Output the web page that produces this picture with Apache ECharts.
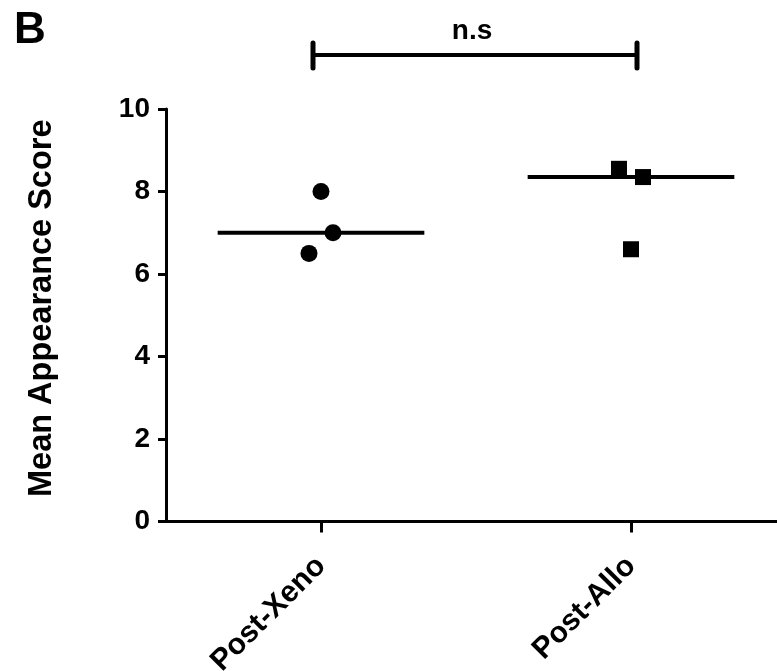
<!DOCTYPE html>
<html>
<head>
<meta charset="utf-8">
<script src="https://cdn.jsdelivr.net/npm/echarts@6/dist/echarts.min.js"></script>
<style>
html,body{margin:0;padding:0;background:#fff;}
#main{width:777px;height:671px;}
</style>
</head>
<body>
<div id="main"></div>
<script>
// ---- data ----
var categories = ['Post-Xeno', 'Post-Allo'];
var xenoScores = [8.0, 7.0, 6.5];
var alloScores = [8.55, 8.35, 6.6];
var yTicks = [0, 2, 4, 6, 8, 10];
var yTitle = 'Mean Appearance Score';
var panelLabel = 'B';
var sigLabel = 'n.s';
// horizontal jitter of individual points (pixels)
var xenoJitter = [0, 12, -12];
var alloJitter = [-12, 12, 0];

function median(arr) {
  var s = arr.slice().sort(function (a, b) { return a - b; });
  var m = Math.floor(s.length / 2);
  return s.length % 2 ? s[m] : (s[m - 1] + s[m]) / 2;
}

var FONT = '"Liberation Sans", Arial, sans-serif';

function pts(cat, vals, jit) {
  return vals.map(function (v, i) {
    return { value: [cat, v], symbolOffset: [jit[i], 0] };
  });
}

var chart = echarts.init(document.getElementById('main'), null, { renderer: 'canvas' });

var option = {
  backgroundColor: '#ffffff',
  animation: false,
  title: {
    text: panelLabel,
    left: 9,
    top: 4,
    textStyle: { fontFamily: FONT, fontWeight: 'bold', fontSize: 44, color: '#000' }
  },
  grid: { left: 166, top: 109, height: 412.5, width: 620, containLabel: false, outerBoundsMode: 'none' },
  xAxis: {
    type: 'category',
    data: categories,
    boundaryGap: true,
    axisLine: { show: true, lineStyle: { color: '#000', width: 3 } },
    axisTick: { show: true, interval: 0, alignWithLabel: true, length: 11, lineStyle: { color: '#000', width: 3 } },
    axisLabel: {
      rotate: 45,
      margin: 40,
      interval: 0,
      color: '#000',
      fontFamily: FONT,
      fontWeight: 'bold',
      fontSize: 30
    },
    splitLine: { show: false }
  },
  yAxis: {
    type: 'value',
    min: yTicks[0],
    max: yTicks[yTicks.length - 1],
    interval: yTicks[1] - yTicks[0],
    name: yTitle,
    nameLocation: 'middle',
    nameRotate: 90,
    nameGap: 107,
    nameTextStyle: { fontFamily: FONT, fontWeight: 'bold', fontSize: 32.5, color: '#000', padding: [0, 0, 0, 14] },
    axisLine: { show: true, lineStyle: { color: '#000', width: 3 } },
    axisTick: { show: true, length: 8, lineStyle: { color: '#000', width: 3 } },
    axisLabel: {
      margin: 16,
      color: '#000',
      fontFamily: FONT,
      fontWeight: 'bold',
      fontSize: 28
    },
    splitLine: { show: false }
  },
  series: [
    {
      type: 'scatter',
      name: categories[0],
      symbol: 'circle',
      symbolSize: 17,
      itemStyle: { color: '#000', opacity: 1 },
      data: pts(categories[0], xenoScores, xenoJitter),
      z: 3
    },
    {
      type: 'scatter',
      name: categories[1],
      symbol: 'rect',
      symbolSize: 16,
      itemStyle: { color: '#000', opacity: 1 },
      data: pts(categories[1], alloScores, alloJitter),
      z: 3
    },
    {
      type: 'custom',
      name: 'median',
      z: 2,
      data: [[0, median(xenoScores)], [1, median(alloScores)]],
      renderItem: function (params, api) {
        var c = api.coord([api.value(0), api.value(1)]);
        var bw = api.size([1, 0])[0];
        return {
          type: 'line',
          shape: { x1: c[0] - bw / 3, y1: c[1], x2: c[0] + bw / 3, y2: c[1] },
          style: { stroke: '#000', lineWidth: 4 }
        };
      }
    },
    {
      type: 'custom',
      name: 'significance',
      clip: false,
      data: [[0, 1]],
      renderItem: function (params, api) {
        var a = api.coord([api.value(0), 10]);
        var b = api.coord([api.value(1), 10]);
        var y = a[1] - 54;
        var x1 = a[0] - 8, x2 = b[0] + 6;
        return {
          type: 'group',
          children: [
            { type: 'line', shape: { x1: x1, y1: y, x2: x2, y2: y }, style: { stroke: '#000', lineWidth: 4 } },
            { type: 'line', shape: { x1: x1, y1: y - 12, x2: x1, y2: y + 13 }, style: { stroke: '#000', lineWidth: 5, lineCap: 'round' } },
            { type: 'line', shape: { x1: x2, y1: y - 12, x2: x2, y2: y + 13 }, style: { stroke: '#000', lineWidth: 5, lineCap: 'round' } },
            {
              type: 'text',
              x: (x1 + x2) / 2 - 3,
              y: y - 10,
              style: {
                text: sigLabel,
                fill: '#000',
                font: 'bold 28px ' + FONT,
                align: 'center',
                verticalAlign: 'bottom'
              }
            }
          ]
        };
      }
    }
  ]
};

chart.setOption(option);
</script>
</body>
</html>
